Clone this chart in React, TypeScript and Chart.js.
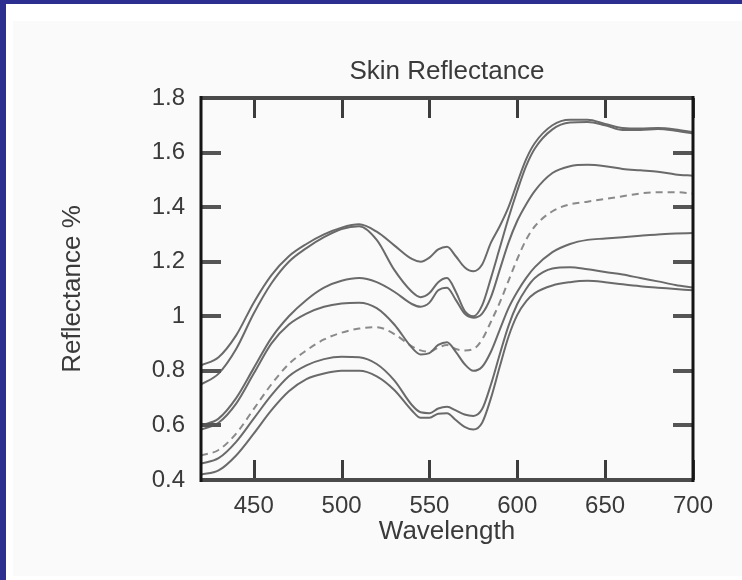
import { useEffect, useRef } from "react";
import { Chart, registerables } from "chart.js";

Chart.register(...registerables);

// ---- data ----
const wavelengths = [420, 430, 440, 450, 460, 470, 480, 490, 500, 510, 520, 530, 540, 545, 550, 555, 560, 565, 570, 575, 580, 585, 590, 595, 600, 605, 610, 620, 630, 640, 650, 660, 670, 680, 690, 700];

const sample1 = [0.82, 0.85, 0.93, 1.05, 1.15, 1.22, 1.265, 1.30, 1.325, 1.337, 1.31, 1.26, 1.21, 1.20, 1.215, 1.245, 1.255, 1.22, 1.18, 1.165, 1.19, 1.27, 1.33, 1.40, 1.49, 1.575, 1.635, 1.70, 1.72, 1.72, 1.705, 1.69, 1.688, 1.69, 1.685, 1.675];
const sample2 = [0.75, 0.79, 0.88, 1.01, 1.12, 1.20, 1.25, 1.29, 1.32, 1.33, 1.28, 1.17, 1.09, 1.07, 1.085, 1.125, 1.14, 1.09, 1.02, 1.0, 1.04, 1.14, 1.25, 1.36, 1.46, 1.55, 1.615, 1.685, 1.71, 1.712, 1.70, 1.683, 1.683, 1.686, 1.68, 1.67];
const sample3 = [0.60, 0.625, 0.70, 0.81, 0.92, 1.00, 1.06, 1.105, 1.13, 1.14, 1.125, 1.09, 1.045, 1.035, 1.05, 1.095, 1.105, 1.06, 1.01, 0.995, 1.01, 1.07, 1.17, 1.27, 1.35, 1.41, 1.46, 1.525, 1.55, 1.555, 1.55, 1.54, 1.535, 1.53, 1.52, 1.515];
const sample4 = [0.585, 0.61, 0.68, 0.79, 0.90, 0.97, 1.01, 1.035, 1.047, 1.05, 1.03, 0.97, 0.885, 0.86, 0.865, 0.895, 0.905, 0.87, 0.825, 0.80, 0.815, 0.87, 0.95, 1.03, 1.09, 1.14, 1.18, 1.235, 1.265, 1.28, 1.285, 1.29, 1.295, 1.30, 1.303, 1.305];
const sample5 = [0.49, 0.51, 0.57, 0.66, 0.75, 0.825, 0.875, 0.915, 0.94, 0.955, 0.96, 0.935, 0.89, 0.875, 0.87, 0.885, 0.895, 0.88, 0.875, 0.88, 0.915, 0.98, 1.05, 1.13, 1.21, 1.28, 1.33, 1.385, 1.41, 1.42, 1.43, 1.44, 1.45, 1.455, 1.455, 1.45];
const sample6 = [0.46, 0.48, 0.54, 0.625, 0.71, 0.78, 0.82, 0.843, 0.852, 0.85, 0.825, 0.765, 0.675, 0.648, 0.645, 0.662, 0.668, 0.655, 0.64, 0.635, 0.66, 0.75, 0.86, 0.965, 1.045, 1.10, 1.14, 1.175, 1.18, 1.172, 1.162, 1.153, 1.14, 1.128, 1.115, 1.105];
const sample7 = [0.42, 0.435, 0.49, 0.57, 0.655, 0.725, 0.77, 0.79, 0.80, 0.80, 0.78, 0.73, 0.655, 0.628, 0.628, 0.643, 0.645, 0.62, 0.595, 0.585, 0.61, 0.70, 0.815, 0.925, 1.005, 1.055, 1.085, 1.113, 1.125, 1.13, 1.125, 1.117, 1.11, 1.105, 1.10, 1.095];

const solidSeries = [sample1, sample2, sample3, sample4, sample6, sample7];
const dashedSeries = [sample5];

const xTicks = [450, 500, 550, 600, 650, 700];
const yTicks = [0.4, 0.6, 0.8, 1.0, 1.2, 1.4, 1.6, 1.8];
const yTickLabels = ["0.4", "0.6", "0.8", "1", "1.2", "1.4", "1.6", "1.8"];

const titleText = "Skin Reflectance";
const xTitle = "Wavelength";
const yTitle = "Reflectance %";

const FONT = '"Liberation Sans", Arial, sans-serif';

const toPoints = (ys: number[]) => wavelengths.map((w, i) => ({ x: w, y: ys[i] }));

const framePlugin = {
  id: "frameTicks",
  afterDraw(chart: any) {
    const { ctx, chartArea, scales } = chart;
    const { left, right, top, bottom } = chartArea;
    const x = scales.x;
    const y = scales.y;
    const len = 20;
    ctx.save();
    ctx.lineCap = "butt";
    ctx.strokeStyle = "#3c3c3c";
    ctx.lineWidth = 3;
    for (const v of xTicks) {
      const px = Math.round(x.getPixelForValue(v)) + 0.5;
      ctx.beginPath();
      ctx.moveTo(px, bottom);
      ctx.lineTo(px, bottom - len);
      ctx.moveTo(px, top);
      ctx.lineTo(px, top + len);
      ctx.stroke();
    }
    ctx.strokeStyle = "#555";
    ctx.lineWidth = 4;
    for (const v of yTicks) {
      const py = Math.round(y.getPixelForValue(v));
      ctx.beginPath();
      ctx.moveTo(left, py);
      ctx.lineTo(left + len, py);
      ctx.moveTo(right, py);
      ctx.lineTo(right - len, py);
      ctx.stroke();
    }
    // horizontal frame edges
    ctx.strokeStyle = "#4a4a4a";
    ctx.lineWidth = 4;
    ctx.beginPath();
    ctx.moveTo(left - 1, top);
    ctx.lineTo(right + 1, top);
    ctx.moveTo(left - 1, bottom);
    ctx.lineTo(right + 1, bottom);
    ctx.stroke();
    // vertical frame edges
    ctx.strokeStyle = "#151515";
    ctx.lineWidth = 3;
    ctx.beginPath();
    ctx.moveTo(left, top - 2);
    ctx.lineTo(left, bottom + 2);
    ctx.moveTo(right, top - 2);
    ctx.lineTo(right, bottom + 2);
    ctx.stroke();
    ctx.restore();
  },
};

export default function App() {
  const canvasRef = useRef<HTMLCanvasElement | null>(null);

  useEffect(() => {
    const canvas = canvasRef.current;
    if (!canvas) return;
    const datasets: any[] = [];
    solidSeries.forEach((s, i) => {
      datasets.push({
        label: `sample ${i + 1}`,
        data: toPoints(s),
        borderColor: "#6a6a6a",
        borderWidth: 2,
        pointRadius: 0,
        fill: false,
        cubicInterpolationMode: "monotone",
      });
    });
    dashedSeries.forEach((s, i) => {
      datasets.push({
        label: `dashed ${i + 1}`,
        data: toPoints(s),
        borderColor: "#8a8a8a",
        borderWidth: 2,
        borderDash: [7, 5],
        pointRadius: 0,
        fill: false,
        cubicInterpolationMode: "monotone",
      });
    });

    const chart = new Chart(canvas, {
      type: "line",
      data: { datasets },
      options: {
        animation: false,
        responsive: false,
        devicePixelRatio: 1,
        events: [],
        layout: { padding: { left: 0, right: 49, top: 0, bottom: 0 } },
        plugins: {
          legend: { display: false },
          tooltip: { enabled: false },
          title: {
            display: true,
            text: titleText,
            fullSize: false,
            color: "#3a3a3a",
            font: { family: FONT, size: 26, weight: "normal" },
            padding: { top: 35, bottom: 10.8 },
          },
        },
        scales: {
          x: {
            type: "linear",
            min: 420,
            max: 700,
            grid: { display: false, drawTicks: false },
            border: { display: false },
            afterBuildTicks: (s: any) => {
              s.ticks = xTicks.map((v) => ({ value: v }));
            },
            afterFit: (s: any) => {
              s.height = 96;
            },
            ticks: {
              autoSkip: false,
              maxRotation: 0,
              padding: 12,
              color: "#3a3a3a",
              font: { family: FONT, size: 24 },
              callback: (v: any) => String(v),
            },
            title: {
              display: true,
              text: xTitle,
              color: "#3a3a3a",
              font: { family: FONT, size: 26 },
              padding: { top: 0, bottom: 28.4 },
            },
          },
          y: {
            type: "linear",
            min: 0.4,
            max: 1.8,
            grid: { display: false, drawTicks: false },
            border: { display: false },
            afterBuildTicks: (s: any) => {
              s.ticks = yTicks.map((v) => ({ value: v }));
            },
            afterFit: (s: any) => {
              s.width = 188;
            },
            ticks: {
              autoSkip: false,
              padding: 16,
              color: "#3a3a3a",
              font: { family: FONT, size: 24 },
              callback: (v: any) => {
                const idx = yTicks.findIndex((t) => Math.abs(t - Number(v)) < 1e-6);
                return idx >= 0 ? yTickLabels[idx] : "";
              },
            },
            title: {
              display: true,
              text: yTitle,
              color: "#3a3a3a",
              font: { family: FONT, size: 26 },
              padding: { top: 44.4, bottom: 0 },
            },
          },
        },
      },
      plugins: [framePlugin],
    });
    return () => chart.destroy();
  }, []);

  return (
    <div style={{ position: "fixed", left: 0, top: 0, width: 742, height: 580, background: "#ffffff", overflow: "hidden" }}>
      <div style={{ position: "absolute", left: 0, top: 0, width: 742, height: 4, background: "#2c2f8f" }} />
      <div style={{ position: "absolute", left: 0, top: 0, width: 6, height: 580, background: "#2c2f8f" }} />
      <div style={{ position: "absolute", left: 13, top: 21, width: 729, height: 555, background: "#fafafa" }}>
        <canvas ref={canvasRef} width={729} height={555} style={{ display: "block", width: 729, height: 555 }} />
      </div>
    </div>
  );
}
